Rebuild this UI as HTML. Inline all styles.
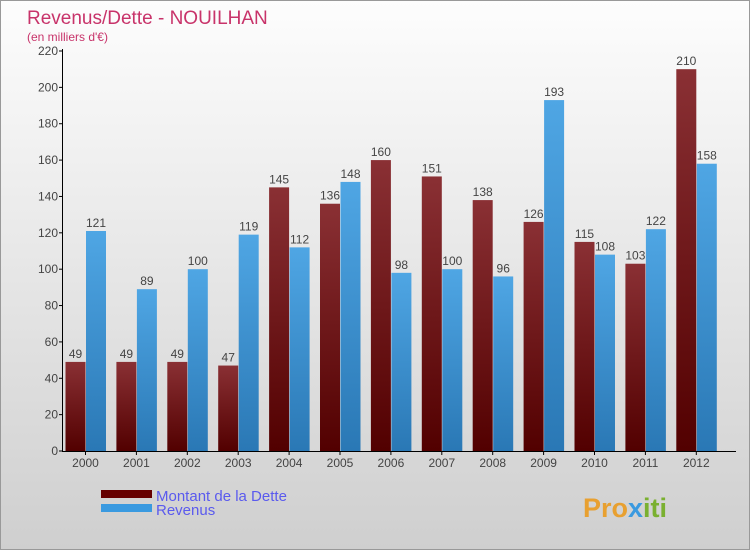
<!DOCTYPE html>
<html><head><meta charset="utf-8"><style>
body{margin:0;}
#wrap{width:748px;height:548px;border:1px solid #999;background:linear-gradient(#fdfdfd,#cfcfcf);position:relative;overflow:hidden;font-family:"Liberation Sans",sans-serif;}
</style></head><body>
<div id="wrap">
<svg id="chart" width="748" height="548">
<defs>
<linearGradient id="gd" x1="0" y1="0" x2="0" y2="1"><stop offset="0" stop-color="#8a3034"/><stop offset="1" stop-color="#520000"/></linearGradient>
<linearGradient id="gb" x1="0" y1="0" x2="0" y2="1"><stop offset="0" stop-color="#4fa6e4"/><stop offset="1" stop-color="#2a78b5"/></linearGradient>
</defs>
<text x="26" y="23" font-size="19" fill="#c8336a">Revenus/Dette - NOUILHAN</text>
<text x="26" y="40" font-size="12" fill="#c8336a">(en milliers d'€)</text>
<g id="bars"></g><g id="axes"></g>
<rect x="100" y="489" width="51" height="8" fill="#660000"/>
<text x="155" y="500" font-size="15" fill="#5a5aee">Montant de la Dette</text>
<rect x="100" y="503" width="51" height="8" fill="#3a9ae0"/>
<text x="155" y="514" font-size="15" fill="#5a5aee">Revenus</text>
<text x="582" y="516" font-size="27" font-weight="bold" fill="#e8a030">Pro<tspan fill="#3a9ae0">x</tspan><tspan fill="#7ab030">iti</tspan></text>
</svg></div>
<script>
const years=["2000","2001","2002","2003","2004","2005","2006","2007","2008","2009","2010","2011","2012"];
const dette=[49,49,49,47,145,136,160,151,138,126,115,103,210];
const revenus=[121,89,100,119,112,148,98,100,96,193,108,122,158];
const yTicks=[0,20,40,60,80,100,120,140,160,180,200,220];
const NS="http://www.w3.org/2000/svg";
const y=v=>450-v*400/220;
const cx=i=>84.5+i*50.9;
function mk(t,a,p){const e=document.createElementNS(NS,t);for(const k in a)e.setAttribute(k,a[k]);p.appendChild(e);return e;}
const axes=document.getElementById('axes'),bars=document.getElementById('bars');
yTicks.forEach(v=>{
 const t=mk('line',{x1:58,x2:62,y1:y(v),y2:y(v),stroke:'#000'},axes);
 
 
 const l=mk('text',{x:57,y:y(v)+4,'font-size':12,fill:'#444','text-anchor':'end'},axes);l.textContent=v;
 
 
});
const ya=mk('line',{x1:61.5,x2:61.5,y1:48,y2:450,stroke:'#000'},axes);


const xa=mk('line',{x1:61,x2:735,y1:450.5,y2:450.5,stroke:'#000'},axes);


years.forEach((yr,i)=>{
 const c=cx(i);
 const b1=mk('rect',{x:c-20,y:y(dette[i]),width:20,height:450-y(dette[i]),fill:'url(#gd)'},bars);
 
 
 const b2=mk('rect',{x:c+0.5,y:y(revenus[i]),width:20,height:450-y(revenus[i]),fill:'url(#gb)'},bars);
 
 
 const t1=mk('text',{x:c-10,y:y(dette[i])-4,'font-size':12,fill:'#444','text-anchor':'middle'},bars);t1.textContent=dette[i];
 
 
 const t2=mk('text',{x:c+10.5,y:y(revenus[i])-4,'font-size':12,fill:'#444','text-anchor':'middle'},bars);t2.textContent=revenus[i];
 
 
 const tk=mk('line',{x1:c,x2:c,y1:450,y2:454,stroke:'#000'},axes);
 
 
 const xl=mk('text',{x:c,y:466,'font-size':12,fill:'#444','text-anchor':'middle'},axes);xl.textContent=yr;
 
 
});
</script>
</body></html>
